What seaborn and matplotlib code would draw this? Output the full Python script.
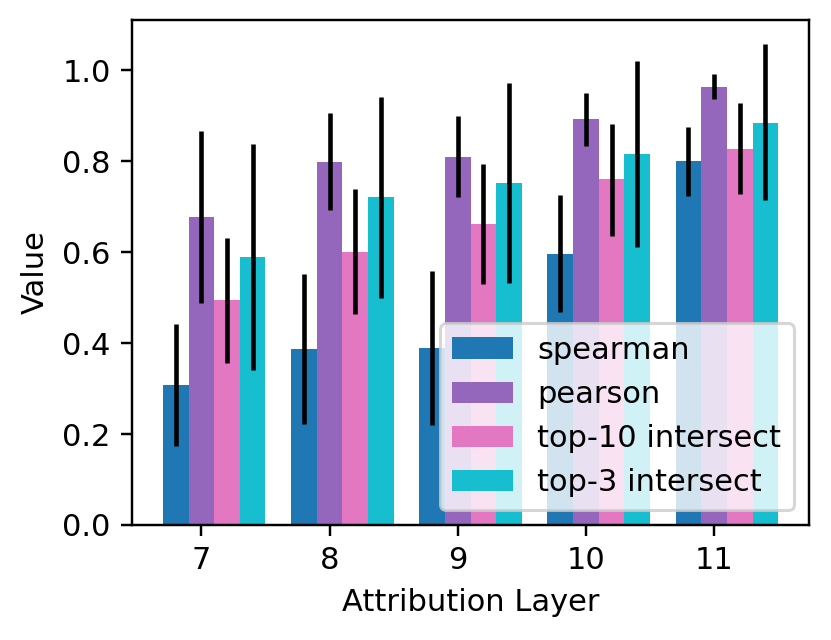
import numpy as np
import pandas as pd
import matplotlib
matplotlib.use("Agg")
import matplotlib.pyplot as plt
from matplotlib.container import BarContainer
import seaborn as sns

layers = ["7", "8", "9", "10", "11"]
metrics = ["spearman", "pearson", "top-10 intersect", "top-3 intersect"]

spearman = [0.307, 0.388, 0.389, 0.596, 0.800]
pearson = [0.677, 0.799, 0.810, 0.893, 0.963]
top10 = [0.494, 0.601, 0.662, 0.760, 0.828]
top3 = [0.589, 0.721, 0.752, 0.816, 0.885]

spearman_lo = [0.173, 0.222, 0.220, 0.469, 0.724]
spearman_hi = [0.443, 0.553, 0.558, 0.725, 0.876]
pearson_lo = [0.488, 0.692, 0.721, 0.833, 0.936]
pearson_hi = [0.866, 0.906, 0.899, 0.951, 0.991]
top10_lo = [0.357, 0.464, 0.530, 0.636, 0.727]
top10_hi = [0.631, 0.738, 0.795, 0.883, 0.929]
top3_lo = [0.341, 0.500, 0.533, 0.611, 0.714]
top3_hi = [0.837, 0.942, 0.973, 1.021, 1.058]

values = [spearman, pearson, top10, top3]
lows = [spearman_lo, pearson_lo, top10_lo, top3_lo]
highs = [spearman_hi, pearson_hi, top10_hi, top3_hi]
colors = ["tab:blue", "tab:purple", "tab:pink", "tab:cyan"]

rows = []
for m, vals in zip(metrics, values):
    for l, v in zip(layers, vals):
        rows.append({"Attribution Layer": l, "metric": m, "Value": v})
df = pd.DataFrame(rows)

DPI = 220
fig = plt.figure(figsize=(831 / DPI, 640 / DPI), dpi=DPI)
ax = fig.add_axes([0.159, 0.1797, 0.8145, 0.7893])

sns.barplot(data=df, x="Attribution Layer", y="Value", hue="metric",
            order=layers, hue_order=metrics, palette=colors,
            errorbar=None, saturation=1, width=0.8, ax=ax)

bar_conts = [c for c in ax.containers if isinstance(c, BarContainer)]

for cont, lo, hi, vals in zip(bar_conts, lows, highs, values):
    xs = [b.get_x() + b.get_width() / 2 for b in cont]
    v = np.array(vals)
    yerr = np.vstack([v - np.array(lo), np.array(hi) - v])
    ax.errorbar(xs, v, yerr=yerr, fmt="none", ecolor="black", elinewidth=1.5, capsize=0)

# ticks sit at the centre of the second series' bars
pear_x = [b.get_x() + b.get_width() / 2 for b in bar_conts[1]]
ax.set_xticks(pear_x)
ax.set_xticklabels(layers)
all_bars = [b for c in bar_conts for b in c]
xmin = min(b.get_x() for b in all_bars)
xmax = max(b.get_x() + b.get_width() for b in all_bars)
pad = 0.05 * (xmax - xmin)
ax.set_xlim(xmin - pad, xmax + pad)
ax.set_ylim(0, 1.111)
ax.set_yticks([0.0, 0.2, 0.4, 0.6, 0.8, 1.0])
ax.set_xlabel("Attribution Layer")
ax.set_ylabel("Value")
ax.legend(loc="lower right", title=None)

fig.savefig("out.png", dpi=DPI)
